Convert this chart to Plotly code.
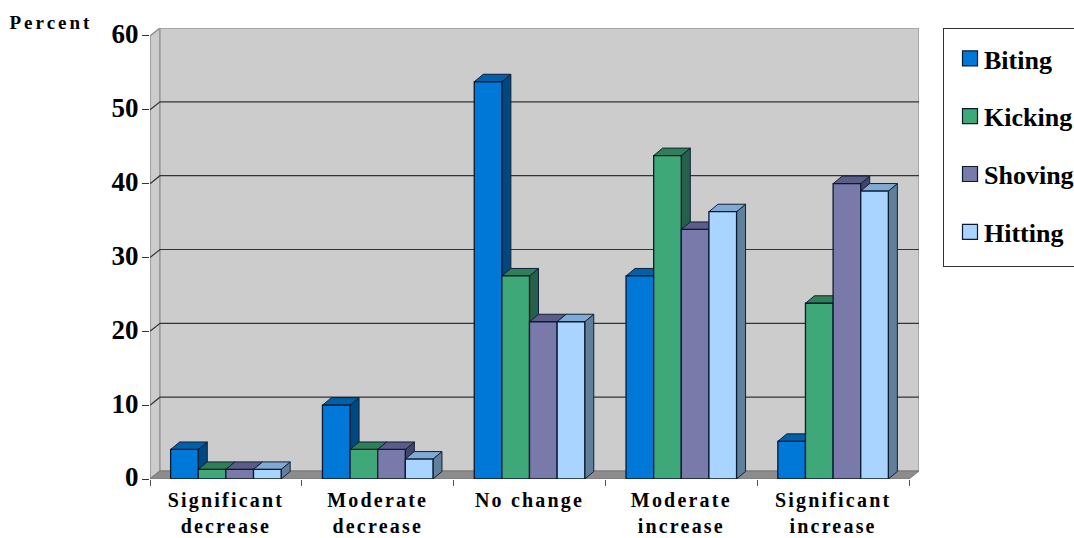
import plotly.graph_objects as go

categories = ["Significant<br>decrease", "Moderate<br>decrease", "No change", "Moderate<br>increase", "Significant<br>increase"]
series_names = ["Biting", "Kicking", "Shoving", "Hitting"]
biting = [4.0, 10.0, 53.8, 27.5, 5.1]
kicking = [1.3, 4.0, 27.5, 43.8, 23.8]
shoving = [1.3, 4.0, 21.3, 33.8, 40.0]
hitting = [1.3, 2.7, 21.3, 36.2, 39.0]
y_ticks = [0, 10, 20, 30, 40, 50, 60]

front = ["#0078D7", "#3FA878", "#7A7AAA", "#A8D4FF"]
top = ["#0060A8", "#2F8058", "#5C5C88", "#7FAAD4"]
side = ["#004880", "#24604A", "#44446A", "#5F7F9A"]

FONT = "Liberation Serif"
CAT_PX = 151.8
UNIT_PX = 7.39
WALL_DX, WALL_DY = 10 / CAT_PX, 8 / UNIT_PX
BAR_DX, BAR_DY = 9 / CAT_PX, 7.5 / UNIT_PX
GAP = 0.136
BAR_W = (1 - 2 * GAP) / 4
N = len(categories)
L, T, R, B = 150, 28, 919, 478.7

fig = go.Figure()


def poly(xs, ys, fill, line, width=1.0):
    fig.add_trace(go.Scatter(x=xs, y=ys, mode="lines", fill="toself", fillcolor=fill,
                             line=dict(color=line, width=width), hoverinfo="skip", showlegend=False))


# walls and floor
poly([0, WALL_DX, WALL_DX, 0, 0], [0, WALL_DY, 60 + WALL_DY, 60, 0], "#CCCCCC", "#8E8E8E", 1.5)
poly([WALL_DX, N + WALL_DX, N + WALL_DX, WALL_DX, WALL_DX],
     [WALL_DY, WALL_DY, 60 + WALL_DY, 60 + WALL_DY, WALL_DY], "#CCCCCC", "#9A9A9A", 1.5)
poly([0, N, N + WALL_DX, WALL_DX, 0], [0, 0, WALL_DY, WALL_DY, 0], "#8C8C8C", "#777777", 1)

# gridlines
for v in y_ticks[1:-1]:
    fig.add_trace(go.Scatter(x=[0, WALL_DX, N + WALL_DX], y=[v, v + WALL_DY, v + WALL_DY], mode="lines",
                             line=dict(color="#333333", width=1.2), hoverinfo="skip", showlegend=False))

# bars
for s, values in enumerate([biting, kicking, shoving, hitting]):
    fx, fy, tx, ty, sx, sy = [], [], [], [], [], []
    for c, v in enumerate(values):
        x0 = c + GAP + s * BAR_W
        x1 = x0 + BAR_W
        fx += [x0, x1, x1, x0, x0, None]
        fy += [0, 0, v, v, 0, None]
        tx += [x0, x1, x1 + BAR_DX, x0 + BAR_DX, x0, None]
        ty += [v, v, v + BAR_DY, v + BAR_DY, v, None]
        sx += [x1, x1 + BAR_DX, x1 + BAR_DX, x1, x1, None]
        sy += [0, BAR_DY, v + BAR_DY, v, 0, None]
    poly(sx, sy, side[s], "#10203A")
    poly(tx, ty, top[s], "#10203A")
    poly(fx, fy, front[s], "#0A1A30", 1.3)

# legend entries
for s, name in enumerate(series_names):
    fig.add_trace(go.Scatter(x=[None], y=[None], mode="markers", name=name, legendgroup=name,
                             marker=dict(symbol="square", size=15, color=front[s],
                                         line=dict(color="#0A1A30", width=1.2))))

fig.update_layout(
    width=1074, height=538, autosize=False,
    margin=dict(l=L, r=1074 - R, t=T, b=538 - B, pad=0, autoexpand=False),
    paper_bgcolor="white", plot_bgcolor="white",
    font=dict(family=FONT, color="black"),
    xaxis=dict(range=[0, N + WALL_DX], showgrid=False, zeroline=False, showline=False,
               tickvals=[i + 0.5 for i in range(N)], ticktext=categories, ticks="", ticklen=0,
               ticklabelstandoff=7,
               tickfont=dict(family=FONT, size=20, weight="bold"), tickangle=0, automargin=False,
               minor=dict(tickvals=list(range(N + 1)), ticks="outside", ticklen=6, tickcolor="#555555", tickwidth=1, showgrid=False)),
    yaxis=dict(range=[0, 60 + WALL_DY], showgrid=False, zeroline=False, showline=False,
               tickvals=y_ticks, ticks="outside", ticklen=7, tickcolor="#333333", tickwidth=1,
               ticklabelstandoff=-2, ticklabelshift=-2,
               tickfont=dict(family=FONT, size=27, weight="bold"), automargin=False),
    legend=dict(x=(943 - L) / (R - L), y=1, xanchor="left", yanchor="top", bgcolor="white",
                bordercolor="#333333", borderwidth=1, font=dict(family=FONT, size=26, weight="bold"),
                tracegroupgap=21, traceorder="grouped", itemclick=False, itemdoubleclick=False),
    annotations=[dict(text="Percent", xref="paper", yref="paper", x=(18 - L) / (R - L), y=(538 - 23 - (538 - B)) / (B - T),
                      xanchor="left", yanchor="middle", showarrow=False,
                      font=dict(family=FONT, size=19, weight="bold", color="black"))],
)

fig.write_html("out.html", config=dict(displayModeBar=False), post_script="""
document.body.style.margin='0';
document.querySelectorAll('.xtick text').forEach(function(t){t.style.letterSpacing='2.2px';});
document.querySelectorAll('.annotation-text').forEach(function(t){t.style.letterSpacing='3px';});
var lg=document.querySelector('.legend');
lg.setAttribute('transform','translate(943,28)');
var bg=lg.querySelector('.bg');
bg.setAttribute('height','238');bg.setAttribute('width','180');
var sb=lg.querySelector('.scrollbox');
sb.removeAttribute('clip-path');
sb.setAttribute('transform','translate(0,6)');
lg.querySelectorAll('.legendsymbols').forEach(function(s){s.setAttribute('transform','translate(6,0)');});
""")
